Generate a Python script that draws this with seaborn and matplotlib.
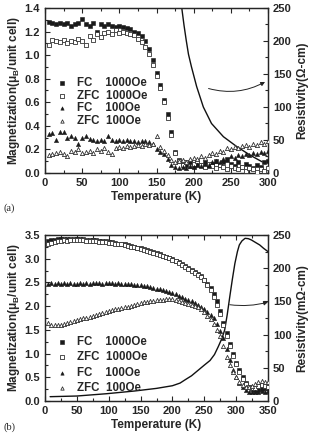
import numpy as np
import pandas as pd
import matplotlib
matplotlib.use("Agg")
import matplotlib.pyplot as plt
from matplotlib.ticker import MultipleLocator
import seaborn as sns

# ---------------- data panel (a) ----------------
T_a = list(range(5, 301, 5))
fc1000_a = [1.28, 1.27, 1.26, 1.27, 1.26, 1.27, 1.25, 1.26, 1.27, 1.31, 1.26, 1.25, 1.27, 1.20, 1.26,
            1.25, 1.26, 1.25, 1.24, 1.25, 1.24, 1.23, 1.22, 1.20, 1.19, 1.16, 1.12, 1.05, 0.96, 0.85,
            0.75, 0.62, 0.50, 0.35, 0.18, 0.11, 0.08, 0.07, 0.09, 0.06, 0.08, 0.07, 0.09, 0.06, 0.08,
            0.10, 0.07, 0.09, 0.12, 0.08, 0.06, 0.09, 0.05, 0.08, 0.06, 0.04, 0.07, 0.05, 0.09, 0.10]
zfc1000_a = [1.09, 1.13, 1.12, 1.11, 1.13, 1.10, 1.12, 1.11, 1.14, 1.12, 1.09, 1.16, 1.13, 1.18, 1.15,
             1.19, 1.20, 1.18, 1.21, 1.19, 1.20, 1.19, 1.18, 1.17, 1.14, 1.11, 1.07, 1.01, 0.92, 0.82,
             0.72, 0.60, 0.47, 0.32, 0.17, 0.10, 0.07, 0.09, 0.06, 0.08, 0.10, 0.07, 0.05, 0.08, 0.06,
             0.04, 0.07, 0.05, 0.03, 0.06, 0.04, 0.03, 0.05, 0.02, 0.04, 0.03, 0.01, 0.03, 0.02, 0.04]
fc100_a = [0.33, 0.34, 0.28, 0.35, 0.35, 0.30, 0.31, 0.30, 0.25, 0.30, 0.31, 0.29, 0.28, 0.27, 0.28,
           0.27, 0.31, 0.28, 0.27, 0.28, 0.27, 0.28, 0.27, 0.27, 0.26, 0.27, 0.27, 0.26, 0.25, 0.20,
           0.18, 0.16, 0.12, 0.07, 0.05, 0.04, 0.05, 0.04, 0.06, 0.05, 0.07, 0.06, 0.08, 0.07, 0.09,
           0.10, 0.09, 0.12, 0.11, 0.14, 0.13, 0.15, 0.14, 0.16, 0.15, 0.17, 0.16, 0.18, 0.17, 0.19]
zfc100_a = [0.15, 0.16, 0.17, 0.18, 0.16, 0.14, 0.19, 0.18, 0.20, 0.17, 0.18, 0.19, 0.17, 0.20, 0.19,
            0.21, 0.18, 0.16, 0.21, 0.22, 0.21, 0.23, 0.22, 0.23, 0.24, 0.23, 0.25, 0.24, 0.25, 0.31,
            0.22, 0.19, 0.15, 0.11, 0.09, 0.10, 0.11, 0.09, 0.12, 0.13, 0.12, 0.14, 0.13, 0.15, 0.17,
            0.16, 0.19, 0.18, 0.21, 0.20, 0.22, 0.21, 0.23, 0.24, 0.22, 0.25, 0.24, 0.26, 0.25, 0.27]
Trho_a = [184, 187, 190, 193, 197, 204, 213, 224, 240, 258, 276, 292]
rho_a = [250, 224, 201, 180, 161, 131, 100, 75, 55, 40, 27, 17]

# ---------------- data panel (b) ----------------
T_b = list(range(5, 351, 5))
fc1000_b = [3.38, 3.39, 3.40, 3.41, 3.42, 3.42, 3.41, 3.42, 3.41, 3.42, 3.42, 3.41, 3.40, 3.40, 3.39,
            3.39, 3.38, 3.37, 3.37, 3.36, 3.35, 3.33, 3.32, 3.31, 3.30, 3.28, 3.27, 3.25, 3.23, 3.22,
            3.20, 3.18, 3.16, 3.14, 3.11, 3.09, 3.06, 3.04, 3.02, 3.00, 2.96, 2.93, 2.88, 2.84, 2.80,
            2.76, 2.71, 2.67, 2.63, 2.55, 2.47, 2.38, 2.25, 2.10, 1.90, 1.65, 1.43, 1.20, 1.00, 0.80,
            0.65, 0.50, 0.38, 0.30, 0.26, 0.24, 0.23, 0.25, 0.27, 0.28]
zfc1000_b = [3.32, 3.34, 3.35, 3.37, 3.38, 3.39, 3.38, 3.39, 3.39, 3.40, 3.39, 3.39, 3.38, 3.38, 3.37,
             3.37, 3.36, 3.36, 3.35, 3.34, 3.33, 3.32, 3.31, 3.30, 3.28, 3.27, 3.25, 3.24, 3.22, 3.21,
             3.19, 3.17, 3.15, 3.13, 3.10, 3.08, 3.05, 3.03, 3.01, 2.98, 2.95, 2.91, 2.87, 2.83, 2.79,
             2.75, 2.70, 2.66, 2.61, 2.55, 2.45, 2.34, 2.20, 2.03, 1.83, 1.60, 1.38, 1.15, 0.95, 0.77,
             0.62, 0.47, 0.36, 0.29, 0.27, 0.28, 0.31, 0.33, 0.31, 0.30]
fc100_b = [2.47, 2.48, 2.46, 2.48, 2.47, 2.49, 2.47, 2.48, 2.46, 2.47, 2.48, 2.47, 2.48, 2.47, 2.48,
           2.49, 2.48, 2.47, 2.49, 2.48, 2.48, 2.47, 2.48, 2.47, 2.47, 2.46, 2.46, 2.45, 2.45, 2.44,
           2.43, 2.42, 2.41, 2.39, 2.37, 2.36, 2.34, 2.32, 2.30, 2.28, 2.25, 2.22, 2.19, 2.16, 2.13,
           2.10, 2.07, 2.03, 1.99, 1.94, 1.88, 1.82, 1.74, 1.62, 1.48, 1.32, 1.10, 0.86, 0.66, 0.51,
           0.39, 0.30, 0.24, 0.20, 0.19, 0.18, 0.19, 0.21, 0.20, 0.22]
zfc100_b = [1.64, 1.61, 1.60, 1.60, 1.61, 1.63, 1.64, 1.66, 1.68, 1.70, 1.72, 1.74, 1.76, 1.78, 1.80,
            1.82, 1.84, 1.86, 1.88, 1.89, 1.91, 1.93, 1.94, 1.96, 1.98, 1.99, 2.01, 2.03, 2.05, 2.06,
            2.08, 2.09, 2.10, 2.11, 2.12, 2.13, 2.14, 2.15, 2.16, 2.15, 2.13, 2.11, 2.09, 2.07, 2.05,
            2.03, 2.01, 1.98, 1.93, 1.87, 1.80, 1.72, 1.62, 1.50, 1.36, 1.15, 0.93, 0.76, 0.62, 0.50,
            0.40, 0.33, 0.30, 0.29, 0.32, 0.36, 0.40, 0.43, 0.41, 0.40]
Trho_b = [8, 50, 97, 140, 175, 200, 212, 220, 230, 240, 250, 259, 266, 272, 278, 282, 286, 290, 294,
          298, 302, 305, 309, 314, 319, 324, 330, 337, 343, 350]
rho_b = [6.5, 7.5, 11, 15, 19, 23, 27, 32, 38, 46, 54, 61, 70, 82, 95, 107, 130, 157, 183,
         207, 225, 235, 241, 245, 244.5, 242.5, 239, 235, 230, 225]

labels = ["FC    1000Oe", "ZFC  1000Oe", "FC    100Oe", "ZFC  100Oe"]

# ---------------- style ----------------
sns.set_style("ticks")
plt.rcParams["font.family"] = ["Liberation Sans", "DejaVu Sans"]
plt.rcParams["font.weight"] = "bold"
plt.rcParams["axes.labelweight"] = "bold"
plt.rcParams["mathtext.fontset"] = "custom"
plt.rcParams["mathtext.rm"] = "Liberation Sans:bold"
plt.rcParams["mathtext.default"] = "rm"
plt.rcParams["axes.linewidth"] = 0.9

fig = plt.figure(figsize=(3.17, 4.40), dpi=100)
W, H = 317, 440
axA = fig.add_axes([45 / W, 1 - 173 / H, 223 / W, 165 / H])
axB = fig.add_axes([45 / W, 1 - 401 / H, 223 / W, 166 / H])

dark = "#1a1a1a"
styles = [
    dict(marker="s", color=dark, edgecolor=dark, linewidth=0.4),
    dict(marker="s", color="white", edgecolor="#333333", linewidth=0.6),
    dict(marker="^", color=dark, edgecolor=dark, linewidth=0.4),
    dict(marker="^", color="white", edgecolor="#333333", linewidth=0.6),
]


def panel(ax, T, series, Trho, rho, xmax, ymax, ymajor, yminor, rlabel, legtop, lspace, arrow):
    for vals, st, lab in zip(series, styles, labels):
        sns.scatterplot(x=T, y=vals, ax=ax, s=9, label=lab, zorder=3, **st)
    ax.set_xlim(0, xmax)
    ax.set_ylim(0, ymax)
    ax.xaxis.set_major_locator(MultipleLocator(50))
    ax.xaxis.set_minor_locator(MultipleLocator(25))
    ax.yaxis.set_major_locator(MultipleLocator(ymajor))
    ax.yaxis.set_minor_locator(MultipleLocator(yminor))
    ax.tick_params(which="both", direction="in", top=True, right=False, labelsize=8, width=0.8)
    ax.tick_params(which="major", length=3.5)
    ax.tick_params(which="minor", length=2)
    ax.set_xlabel("Temperature (K)", fontsize=8.5, labelpad=2)
    ax.set_ylabel("Magnetization(μ$_{B}$/unit cell)", fontsize=8.5, labelpad=2)
    ax.legend(loc="upper left", bbox_to_anchor=(0.02, legtop), frameon=False,
              fontsize=8.3, handlelength=0.8, handletextpad=0.9, labelspacing=lspace,
              borderpad=0.2, markerscale=0.8)
    tw = ax.twinx()
    sns.lineplot(x=Trho, y=rho, ax=tw, color="#111111", linewidth=1.0, legend=False)
    tw.set_ylim(0, 250)
    tw.set_xlim(0, xmax)
    tw.yaxis.set_major_locator(MultipleLocator(50))
    tw.yaxis.set_minor_locator(MultipleLocator(25))
    tw.tick_params(which="both", direction="in", labelsize=8, width=0.8)
    tw.tick_params(which="major", length=3.5)
    tw.tick_params(which="minor", length=2)
    tw.set_ylabel(rlabel, fontsize=8.5, labelpad=3)
    tw.set_xlabel("")
    (x0, y0), (x1, y1), rad = arrow
    tw.annotate("", xy=(x1, y1), xytext=(x0, y0),
                arrowprops=dict(arrowstyle="-|>", color="#222222", lw=0.7,
                                mutation_scale=6, shrinkA=0, shrinkB=0,
                                connectionstyle=f"arc3,rad={rad}"))
    ax.set_zorder(tw.get_zorder() + 1)
    ax.patch.set_visible(False)
    return tw


panel(axA, T_a, [fc1000_a, zfc1000_a, fc100_a, zfc100_a], Trho_a, rho_a, 300, 1.4, 0.2, 0.1,
      "Resistivity(Ω-cm)", 0.63, 0.05, ((220, 128), (296, 138), 0.2))
panel(axB, T_b, [fc1000_b, zfc1000_b, fc100_b, zfc100_b], Trho_b, rho_b, 350, 3.5, 0.5, 0.25,
      "Resistivity(mΩ-cm)", 0.44, 0.3, ((290, 145), (350, 149), 0.1))

fig.text(3 / W, 1 - 208 / H, "(a)", fontsize=7.5, fontweight="normal",
         family=["Liberation Serif", "DejaVu Serif"], va="center", ha="left")
fig.text(3 / W, 1 - 427 / H, "(b)", fontsize=7.5, fontweight="normal",
         family=["Liberation Serif", "DejaVu Serif"], va="center", ha="left")

fig.savefig("out.png", dpi=100)
